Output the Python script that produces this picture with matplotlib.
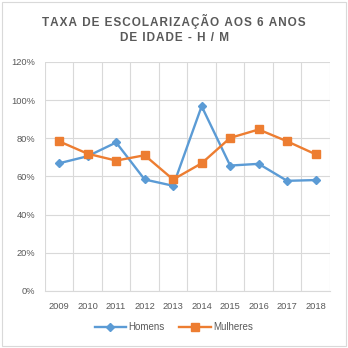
import numpy as np
import matplotlib.pyplot as plt
from matplotlib.patches import Rectangle

# dados
anos = ['2009', '2010', '2011', '2012', '2013', '2014', '2015', '2016', '2017', '2018']
homens = [66.9, 70.6, 77.8, 58.4, 55.1, 96.8, 65.7, 66.6, 57.7, 58.1]
mulheres = [78.4, 71.9, 68.3, 71.1, 58.4, 66.9, 80.2, 84.6, 78.4, 71.6]

azul = '#5B9BD5'
laranja = '#ED7D31'
cinza = '#595959'
grade = '#D9D9D9'

plt.rcParams['font.family'] = ['Liberation Sans', 'DejaVu Sans']

fig = plt.figure(figsize=(3.48, 3.48), dpi=100)
fig.patches.append(Rectangle((0.006, 0.006), 0.988, 0.988, transform=fig.transFigure,
                             fill=False, edgecolor=grade, linewidth=0.8))

ax = fig.add_axes([0.129, 0.164, 0.819, 0.658])
x = np.arange(len(anos))

ax.plot(x, homens, color=azul, linewidth=1.7, marker='D', markersize=4, label='Homens')
ax.plot(x, mulheres, color=laranja, linewidth=1.7, marker='s', markersize=5.5, label='Mulheres')

ax.set_xlim(-0.5, len(anos) - 0.5)
ax.set_ylim(0, 120)
ax.set_yticks(range(0, 121, 20))
ax.set_yticklabels([f'{v}%' for v in range(0, 121, 20)])
ax.set_xticks(x)
ax.set_xticklabels(anos)
ax.set_xticks(np.arange(-0.5, len(anos), 1), minor=True)

ax.grid(axis='y', color=grade, linewidth=0.8)
ax.grid(axis='x', which='minor', color=grade, linewidth=0.8)
ax.set_axisbelow(True)
for s in ['top', 'right', 'left']:
    ax.spines[s].set_visible(False)
ax.spines['bottom'].set_color(grade)
ax.tick_params(axis='both', which='both', length=0, colors=cinza, labelsize=6.7)
ax.tick_params(axis='x', pad=8)
ax.tick_params(axis='y', pad=7)

# título com espaçamento entre letras
def espacar(texto):
    return '\u200a'.join(texto)

fig.text(0.5, 0.937, espacar('TAXA DE ESCOLARIZAÇÃO AOS 6 ANOS'),
         ha='center', va='center', fontsize=8.5, fontweight='bold', color=cinza)
fig.text(0.5, 0.89, espacar('DE IDADE - H / M'),
         ha='center', va='center', fontsize=8.5, fontweight='bold', color=cinza)

leg = fig.legend(loc='center', bbox_to_anchor=(0.5, 0.06), ncol=2, frameon=False,
                 fontsize=7, handlelength=3.2, columnspacing=1.5, handletextpad=0.3)
for t in leg.get_texts():
    t.set_color(cinza)

fig.savefig('out.png', dpi=100)
